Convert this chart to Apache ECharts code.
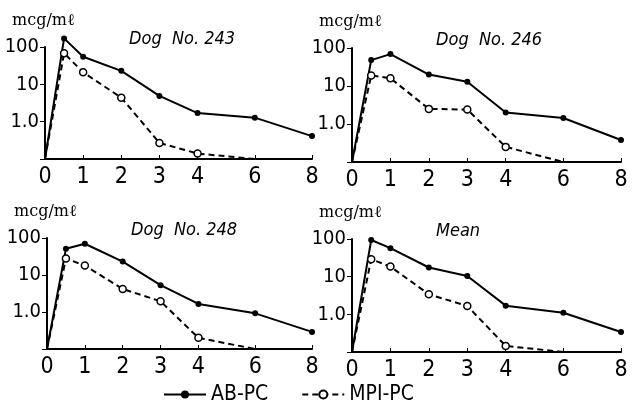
<!DOCTYPE html>
<html>
<head>
<meta charset="utf-8">
<script src="https://cdn.jsdelivr.net/npm/echarts@6/dist/echarts.min.js"></script>
<style>
  html, body { margin: 0; padding: 0; background: #fff; }
  #chart { width: 634px; height: 401px; }
</style>
</head>
<body>
<div id="chart"></div>
<script>
// sampling times (h) and tick labels
var times = [0, 0.5, 1, 2, 3, 4, 6, 8];
var xTicks = [0, 1, 2, 3, 4, 6, 8];

// serum levels, mcg/ml (0.1 = baseline of the log axis)
var ab243 = [0.1, 170, 55, 23, 4.9, 1.7, 1.28, 0.41];
var mpi243 = [0.1, 68, 21, 4.4, 0.27, 0.14, 0.1];
var ab246 = [0.1, 48, 69, 20, 13, 2.0, 1.44, 0.38];
var mpi246 = [0.1, 19, 16, 2.5, 2.4, 0.25, 0.1];
var ab248 = [0.1, 51, 70, 23, 5.3, 1.65, 0.92, 0.29];
var mpi248 = [0.1, 28, 18, 4.2, 1.94, 0.2, 0.1];
var abMean = [0.1, 94, 57, 17.5, 10.4, 1.7, 1.1, 0.34];
var mpiMean = [0.1, 29, 18.5, 3.4, 1.67, 0.145, 0.1];

var titles = ['Dog  No. 243', 'Dog  No. 246', 'Dog  No. 248', 'Mean'];

var chart = echarts.init(document.getElementById('chart'));

var font = "'DejaVu Sans Condensed', 'DejaVu Sans', sans-serif";

// time axis is compressed after 4 h (broken scale)
function xPos(t) {
    return t <= 4 ? t : 4 + (t - 4) * 0.75;
}

function toData(vals, lastBare) {
    return vals.map(function (v, i) {
        var item = { value: [xPos(times[i]), v] };
        if (i === 0 || (lastBare && i === vals.length - 1)) {
            item.symbol = 'none';
        }
        return item;
    });
}

// panel boxes
var grids = [
    { left: 45, top: 47, width: 267, height: 112 },
    { left: 352, top: 48, width: 269, height: 114 },
    { left: 47, top: 238, width: 265, height: 111 },
    { left: 352, top: 239, width: 269, height: 113 }
];

var xAxes = [], yAxes = [], series = [], graphics = [];
var pairs = [[ab243, mpi243], [ab246, mpi246], [ab248, mpi248], [abMean, mpiMean]];

grids.forEach(function (g, i) {
    xAxes.push({
        type: 'value',
        gridIndex: i,
        min: 0,
        max: 7,
        axisLine: { lineStyle: { color: '#000', width: 2 } },
        axisTick: {
            inside: true,
            length: 4,
            customValues: xTicks.map(xPos),
            lineStyle: { color: '#000', width: 1 }
        },
        axisLabel: {
            customValues: xTicks.map(xPos),
            color: '#000',
            fontSize: 23,
            fontFamily: font,
            margin: 7,
            formatter: function (v) {
                for (var k = 0; k < xTicks.length; k++) {
                    if (Math.abs(xPos(xTicks[k]) - v) < 1e-6) return String(xTicks[k]);
                }
                return '';
            }
        },
        splitLine: { show: false }
    });
    yAxes.push({
        type: 'log',
        logBase: 10,
        gridIndex: i,
        min: 0.1,
        max: 100,
        axisLine: { show: true, lineStyle: { color: '#000', width: 2 } },
        axisTick: { show: true, length: 5, lineStyle: { color: '#000' } },
        axisLabel: {
            color: '#000',
            fontSize: 20,
            fontFamily: font,
            margin: 6,
            formatter: function (v) {
                if (Math.abs(v - 100) < 1e-6) return '100';
                if (Math.abs(v - 10) < 1e-6) return '10';
                if (Math.abs(v - 1) < 1e-6) return '1.0';
                return '';
            }
        },
        splitLine: { show: false }
    });
    series.push({
        name: 'AB-PC',
        type: 'line',
        xAxisIndex: i,
        yAxisIndex: i,
        clip: false,
        symbol: 'circle',
        symbolSize: 6,
        itemStyle: { color: '#000' },
        lineStyle: { color: '#000', width: 2 },
        data: toData(pairs[i][0], false)
    });
    series.push({
        name: 'MPI-PC',
        type: 'line',
        xAxisIndex: i,
        yAxisIndex: i,
        clip: false,
        symbol: 'circle',
        symbolSize: 7,
        itemStyle: { color: '#fff', borderColor: '#000', borderWidth: 1.5 },
        lineStyle: { color: '#000', width: 2, type: [6, 4] },
        data: toData(pairs[i][1], true)
    });

    // unit label and panel title
    graphics.push({
        type: 'text',
        left: g.left - 33,
        top: g.top - 34,
        style: { text: 'mcg/mℓ', fontSize: 16, fontFamily: "'DejaVu Serif', serif", fill: '#000' }
    });
    graphics.push({
        type: 'text',
        left: g.left + 84,
        top: g.top - 17,
        style: {
            text: titles[i],
            fontSize: 18,
            fontStyle: 'italic',
            fontFamily: font,
            fill: '#000'
        }
    });
});

var option = {
    backgroundColor: '#fff',
    animation: false,
    grid: grids,
    xAxis: xAxes,
    yAxis: yAxes,
    series: series,
    graphic: graphics,
    legend: {
        left: 158,
        top: 379,
        itemWidth: 42,
        itemHeight: 10,
        itemGap: 33,
        textStyle: { color: '#000', fontSize: 21, fontFamily: font },
        data: ['AB-PC', 'MPI-PC']
    }
};

chart.setOption(option);
</script>
</body>
</html>
